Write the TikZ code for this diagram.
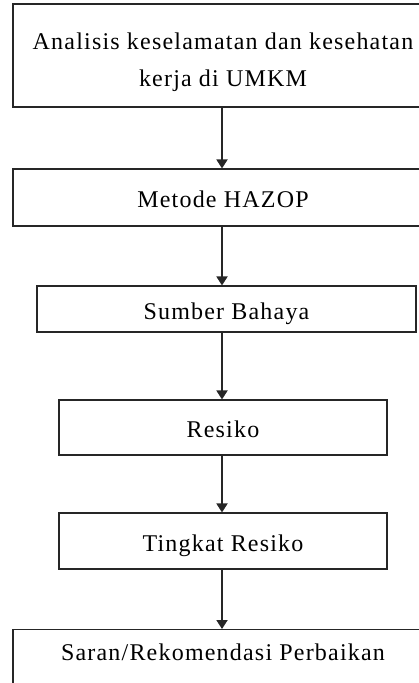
\documentclass[tikz,border=0pt]{standalone}
\usepackage{fontspec}
\setmainfont{Liberation Serif}[LetterSpace=5]
\usepackage{tikz}
\usetikzlibrary{arrows.meta,calc}

\begin{document}
\begin{tikzpicture}[x=1pt,y=1pt,
  kotak/.style={draw=black!85,line width=1.1pt,fill=white,inner sep=0pt,
    font=\fontsize{24}{37}\selectfont,align=center},
  satu/.style={kotak,text height=20pt,text depth=0pt},
  panah/.style={line width=1.8pt,draw=black!85,
    -{Triangle[width=11pt,length=9pt]}}]
\useasboundingbox (0,0) rectangle (419,-683);
\clip (0,0) rectangle (419,-683);
\coordinate (sumbu) at (222,0);
\node[kotak,minimum width=420,minimum height=103] (analisis) at (223,-55.5)
  {\rule{0pt}{30pt}Analisis keselamatan dan kesehatan\\kerja di UMKM};
\node[satu,minimum width=420,minimum height=57] (hazop) at (223,-197.5)
  {Metode HAZOP};
\node[satu,minimum width=379,minimum height=46] (sumber) at (226.5,-309)
  {Sumber Bahaya};
\node[satu,minimum width=328,minimum height=55] (resiko) at (223,-427.5)
  {Resiko};
\node[satu,minimum width=328,minimum height=56] (tingkat) at (223,-541)
  {Tingkat Resiko};
\node[kotak,minimum width=420,minimum height=70,text depth=24pt,anchor=north] (saran) at (223,-629)
  {Saran/Rekomendasi Perbaikan};
\draw[panah] (analisis.south -| sumbu) -- (hazop.north -| sumbu);
\draw[panah] (hazop.south -| sumbu) -- (sumber.north -| sumbu);
\draw[panah] (sumber.south -| sumbu) -- (resiko.north -| sumbu);
\draw[panah] (resiko.south -| sumbu) -- (tingkat.north -| sumbu);
\draw[panah] (tingkat.south -| sumbu) -- (saran.north -| sumbu);
\end{tikzpicture}
\end{document}
